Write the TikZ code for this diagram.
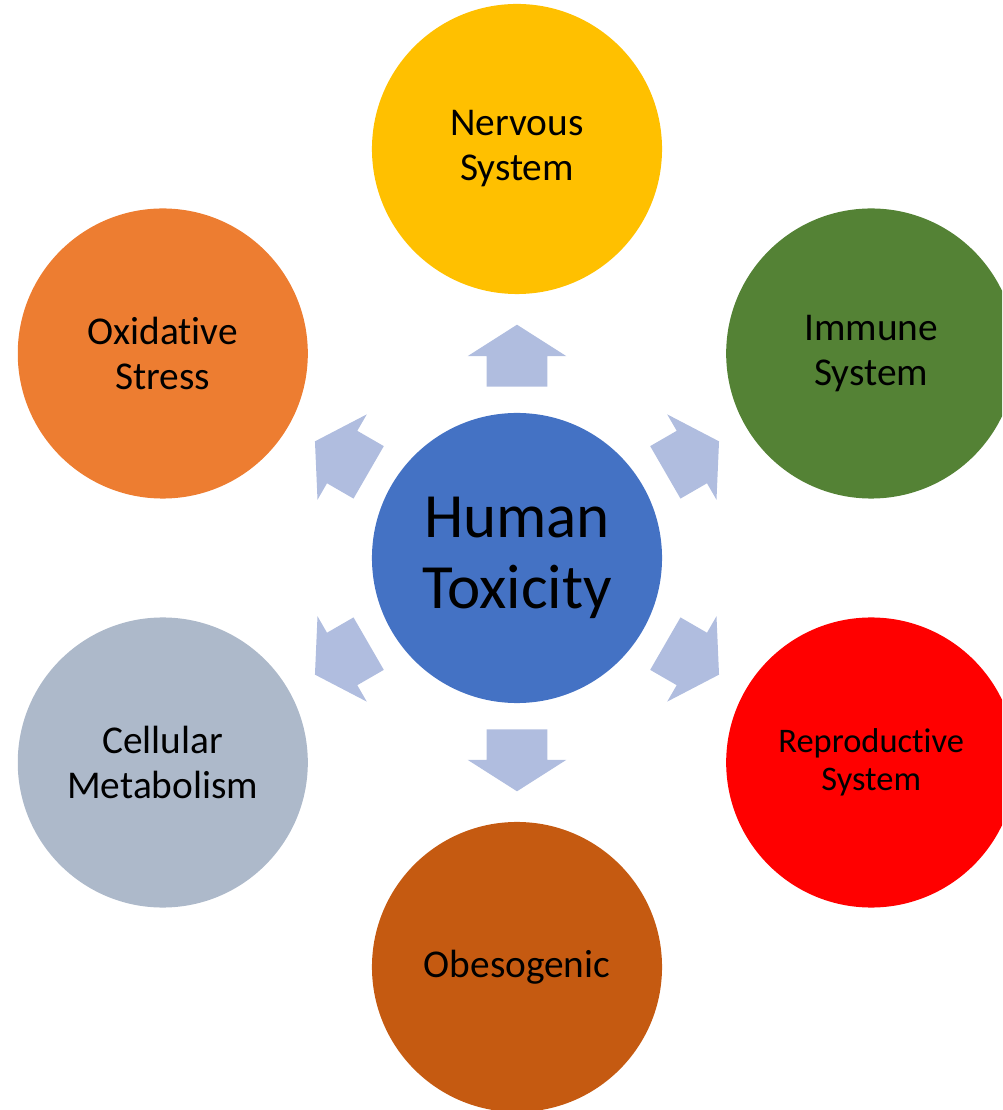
\documentclass[tikz,border=0pt]{standalone}
\usepackage{fontspec}
\setmainfont{Carlito}[RawFeature=-liga]
\usepackage{tikz}
\usetikzlibrary{shapes.arrows}

\definecolor{hubblue}{HTML}{4472C4}
\definecolor{nervgold}{HTML}{FFC000}
\definecolor{immgreen}{HTML}{548235}
\definecolor{oxorange}{HTML}{ED7D31}
\definecolor{cellgrey}{HTML}{ADB9CA}
\definecolor{obesbrown}{HTML}{C55A11}
\definecolor{reprored}{HTML}{FF0000}
\definecolor{arrowblue}{HTML}{B0BDDF}

\begin{document}
\begin{tikzpicture}[x=0.025cm, y=0.025cm]
    \tikzstyle{organ} = [circle, minimum size=7.25cm, inner sep=0pt, text centered, align=center, font=\fontsize{28pt}{32pt}\selectfont]
    \tikzstyle{blockarrow} = [single arrow, fill=arrowblue, draw=none, inner sep=0pt, minimum height=1.55cm, single arrow head extend=0.475cm, single arrow tip angle=115, anchor=tail]

    \useasboundingbox (-517,558) rectangle (485,-552);
    \clip (-517,558) rectangle (485,-552);

    \node [organ, fill=hubblue, font=\fontsize{44.8pt}{50.5pt}\selectfont] (hub) at (0,0) {Human\\Toxicity};

    \node [organ, fill=nervgold] (nervous) at (90:409) {Nervous\\System};
    \node [organ, fill=immgreen] (immune) at (30:409) {Immune\\System};
    \node [organ, fill=reprored, font=\fontsize{24.5pt}{27pt}\selectfont] (repro) at (-30:409) {Reproductive\\System};
    \node [organ, fill=obesbrown] (obeso) at (-90:409) {Obesogenic};
    \node [organ, fill=cellgrey] (cellular) at (-150:409) {Cellular\\Metabolism};
    \node [organ, fill=oxorange] (oxid) at (150:409) {Oxidative\\Stress};

    % block arrows between the hub and each outer circle (the rule sets the shaft width)
    \foreach \ang/\name in {90/toNervous, 30/toImmune, -30/toRepro, -90/toObeso, -150/toCellular, 150/toOxid}
        \node [blockarrow, rotate=\ang] (\name) at (\ang:171) {\rule{0pt}{1.5cm}};
\end{tikzpicture}
\end{document}
